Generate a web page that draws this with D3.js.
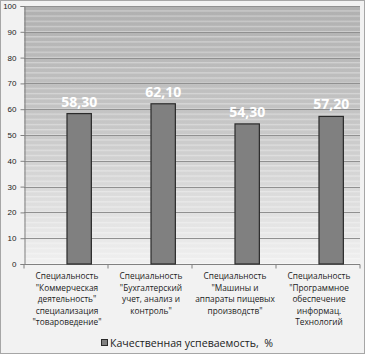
<!DOCTYPE html>
<html>
<head>
<meta charset="utf-8">
<script src="https://cdn.jsdelivr.net/npm/d3@7"></script>
<style>
  body { margin: 0; background: #f2f2f2; }
  svg { display: block; font-family: "Open Sans", "Liberation Sans", sans-serif; }
</style>
</head>
<body>
<div id="chart"></div>
<script>
// données
const categories = [
  ["Специальность", "\"Коммерческая", "деятельность\"", "специализация", "\"товароведение\""],
  ["Специальность", "\"Бухгалтерский", "учет, анализ и", "контроль\""],
  ["Специальность", "\"Машины и", "аппараты пищевых", "производств\""],
  ["Специальность", "\"Программное", "обеспечение", "информац.", "Технологий"]
];
const values = [58.3, 62.1, 54.3, 57.2];
const valueLabels = ["58,30", "62,10", "54,30", "57,20"];
const yTicks = [0, 10, 20, 30, 40, 50, 60, 70, 80, 90, 100];
const seriesName = "Качественная успеваемость,  %";

const width = 365, height = 354;
const plot = { left: 24, top: 6, right: 360, bottom: 264 };

const svg = d3.select("#chart").append("svg")
  .attr("width", width)
  .attr("height", height);

// cadre extérieur
svg.append("rect")
  .attr("x", 0.5).attr("y", 0.5)
  .attr("width", width - 1).attr("height", height - 1)
  .attr("fill", "#f2f2f2")
  .attr("stroke", "#a6a6a6");

const defs = svg.append("defs");

// dégradé du fond de la zone de tracé
const grad = defs.append("linearGradient")
  .attr("id", "bg").attr("x1", 0).attr("y1", 0).attr("x2", 0).attr("y2", 1);
grad.append("stop").attr("offset", "0%").attr("stop-color", "#b0b0b0");
grad.append("stop").attr("offset", "45%").attr("stop-color", "#c6c6c6");
grad.append("stop").attr("offset", "100%").attr("stop-color", "#f0f0f0");

// rayures horizontales fines
const pat = defs.append("pattern")
  .attr("id", "stripes")
  .attr("patternUnits", "userSpaceOnUse")
  .attr("width", 8).attr("height", 5.16);
pat.append("rect")
  .attr("x", 0).attr("y", 0).attr("width", 8).attr("height", 1.3)
  .attr("fill", "#ffffff").attr("opacity", 0.35);

// échelles
const x = d3.scaleBand()
  .domain(d3.range(categories.length))
  .range([plot.left, plot.right]);

const y = d3.scaleLinear()
  .domain([0, 100])
  .range([plot.bottom, plot.top]);

// fond
svg.append("rect")
  .attr("x", plot.left).attr("y", plot.top)
  .attr("width", plot.right - plot.left).attr("height", plot.bottom - plot.top)
  .attr("fill", "url(#bg)");
svg.append("rect")
  .attr("x", plot.left).attr("y", plot.top)
  .attr("width", plot.right - plot.left).attr("height", plot.bottom - plot.top)
  .attr("fill", "url(#stripes)");

// grille
svg.append("g")
  .selectAll("line")
  .data(yTicks.filter(d => d > 0))
  .join("line")
  .attr("x1", plot.left).attr("x2", plot.right)
  .attr("y1", d => Math.round(y(d)) + 0.5)
  .attr("y2", d => Math.round(y(d)) + 0.5)
  .attr("stroke", "#909090")
  .attr("stroke-width", 1);

// axe Y
const yAxis = svg.append("g")
  .attr("transform", `translate(${plot.left + 0.5},0)`)
  .call(d3.axisLeft(y).tickValues(yTicks).tickSize(4).tickPadding(4));
yAxis.select(".domain").attr("stroke", "#808080");
yAxis.selectAll(".tick line").attr("stroke", "#808080");
yAxis.selectAll("text").attr("font-size", 8).attr("fill", "#222");

// axe X
const xAxis = svg.append("g")
  .attr("transform", `translate(0,${plot.bottom + 0.5})`);
xAxis.append("line")
  .attr("x1", plot.left).attr("x2", plot.right)
  .attr("stroke", "#808080");
xAxis.selectAll(".xt")
  .data(d3.range(categories.length + 1))
  .join("line")
  .attr("class", "xt")
  .attr("x1", d => plot.left + d * x.bandwidth())
  .attr("x2", d => plot.left + d * x.bandwidth())
  .attr("y1", 0).attr("y2", 4)
  .attr("stroke", "#808080");

// barres (décalées à droite du centre de la catégorie)
const barW = x.bandwidth() * 0.29;
svg.append("g")
  .selectAll("rect")
  .data(values)
  .join("rect")
  .attr("x", (d, i) => x(i) + x.bandwidth() / 2 + 1)
  .attr("y", d => y(d))
  .attr("width", barW)
  .attr("height", d => y(0) - y(d))
  .attr("fill", "#808080")
  .attr("stroke", "#2a2a2a")
  .attr("stroke-width", 1.2);

// étiquettes de valeurs
svg.append("g")
  .selectAll("text")
  .data(values)
  .join("text")
  .attr("x", (d, i) => x(i) + x.bandwidth() / 2 + 1 + barW / 2)
  .attr("y", d => y(d) - 7)
  .attr("text-anchor", "middle")
  .attr("font-size", 14)
  .attr("font-weight", "bold")
  .attr("fill", "#ffffff")
  .text((d, i) => valueLabels[i]);

// étiquettes des catégories
const catG = svg.append("g");
categories.forEach((lines, i) => {
  const cx = x(i) + x.bandwidth() / 2 + 1;
  const t = catG.append("text")
    .attr("x", cx)
    .attr("y", 279)
    .attr("text-anchor", "middle")
    .attr("font-size", 8.3)
    .attr("fill", "#222");
  lines.forEach((l, j) => {
    t.append("tspan")
      .attr("x", cx)
      .attr("dy", j === 0 ? 0 : 11.6)
      .text(l);
  });
});

// légende
const leg = svg.append("g").attr("transform", "translate(101,347)");
leg.append("rect")
  .attr("x", 0.5).attr("y", -7.5)
  .attr("width", 6).attr("height", 6)
  .attr("fill", "#808080")
  .attr("stroke", "#2a2a2a");
leg.append("text")
  .attr("x", 9).attr("y", 0)
  .attr("font-size", 10.6)
  .attr("fill", "#222")
  .attr("xml:space", "preserve")
  .style("white-space", "pre")
  .text(seriesName);
</script>
</body>
</html>
